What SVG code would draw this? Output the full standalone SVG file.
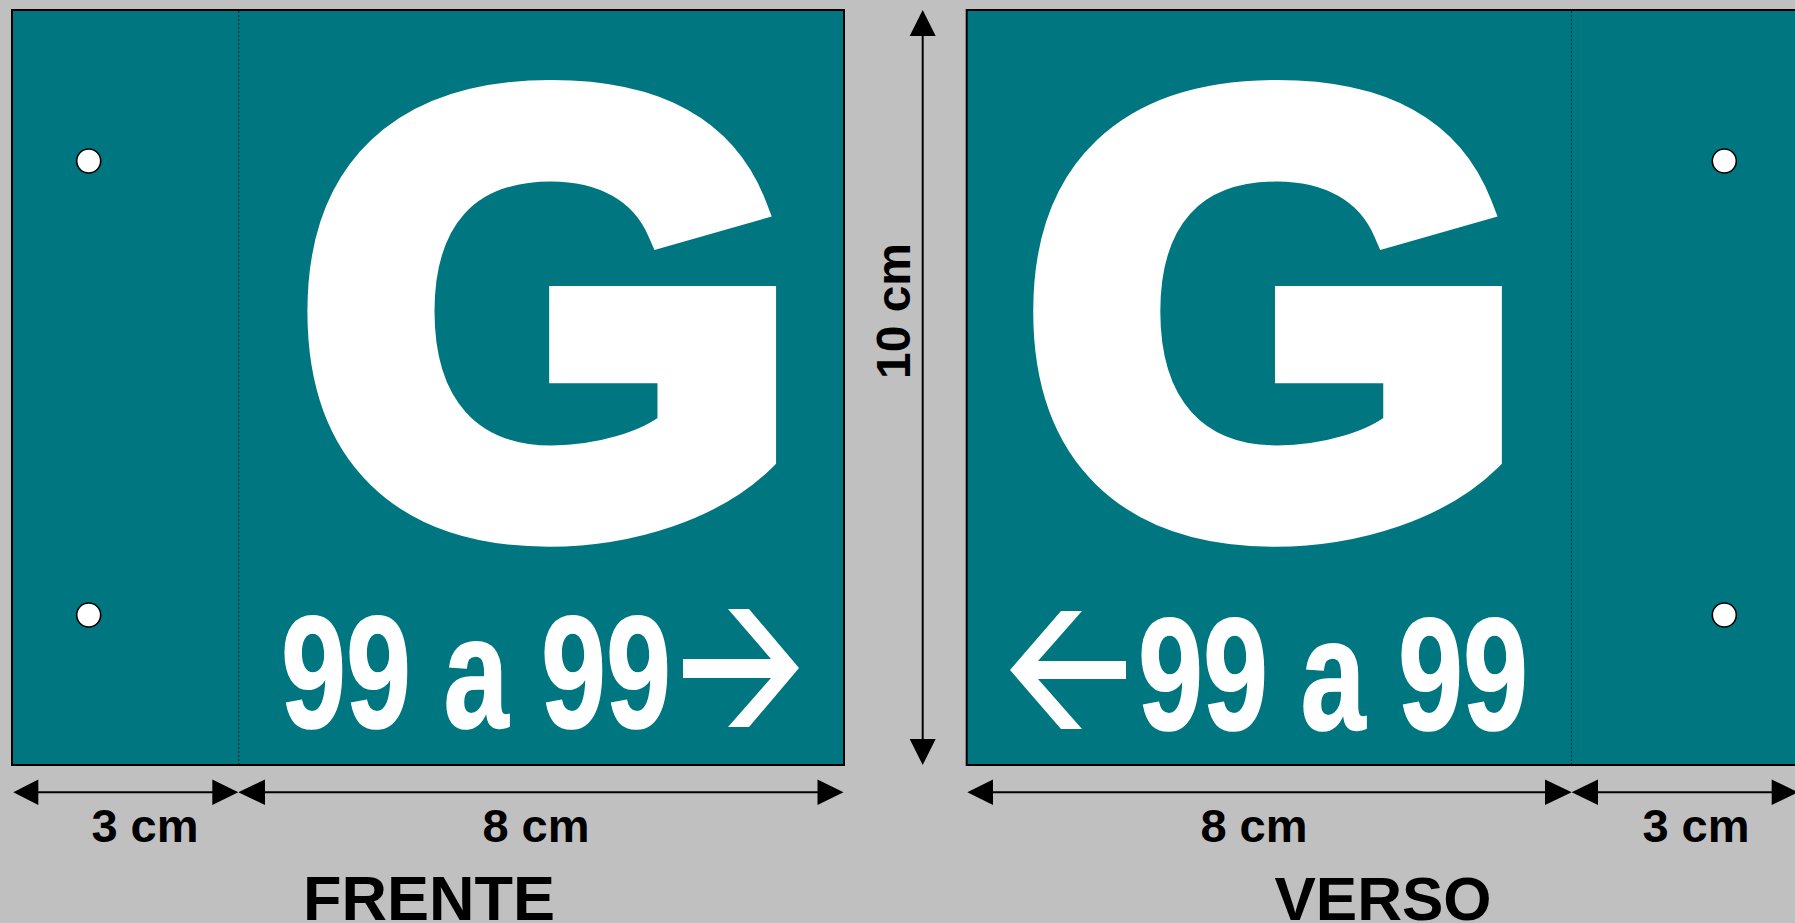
<svg xmlns="http://www.w3.org/2000/svg" width="1795" height="923" viewBox="0 0 1795 923">
<style>
.panel{fill:#007780;stroke:#000;stroke-width:2}
.fold{stroke:#0a2a30;stroke-width:1;stroke-dasharray:2,2;fill:none}
.hole{fill:#fff;stroke:#000;stroke-width:1.6}
.bigG{font-family:"Liberation Sans",Arial,sans-serif;font-weight:bold;fill:#fff;stroke:#fff;stroke-width:32;stroke-linejoin:miter;stroke-miterlimit:10}
.num{font-family:"Liberation Sans",Arial,sans-serif;font-weight:bold;fill:#fff;stroke:#fff;stroke-width:1.5}
.dim{font-family:"Liberation Sans",Arial,sans-serif;font-weight:bold;fill:#000}
.line{stroke:#000;stroke-width:2;fill:none}
.head{fill:#000}
.arrow{fill:#fff}
</style>
<rect x="0" y="0" width="1795" height="923" fill="#c0c0c0"/>
<g id="frente">
  <rect class="panel" x="12" y="10" width="832" height="755"/>
  <line class="fold" x1="238.7" y1="11" x2="238.7" y2="764"/>
  <circle class="hole" cx="88.7" cy="161" r="12"/>
  <circle class="hole" cx="88.7" cy="615" r="12"/>
  <text class="bigG" x="0" y="0" font-size="614" text-anchor="middle" transform="translate(548.5,524.7) scale(1.05,1)">G</text>
  <text class="num" x="281" y="727" font-size="160" textLength="390" lengthAdjust="spacingAndGlyphs">99 a 99</text>
  <polygon class="arrow" points="683,659 771,659 728,609 749,609 799,668 749,727 728,727 771,678 683,678"/>
</g>
<g id="verso">
  <rect class="panel" x="966.7" y="10" width="840" height="755"/>
  <line class="fold" x1="1571.5" y1="11" x2="1571.5" y2="764"/>
  <circle class="hole" cx="1724.3" cy="161" r="12"/>
  <circle class="hole" cx="1724.3" cy="615" r="12"/>
  <text class="bigG" x="0" y="0" font-size="614" text-anchor="middle" transform="translate(1274.3,524.7) scale(1.05,1)">G</text>
  <text class="num" x="1138" y="729" font-size="160" textLength="390" lengthAdjust="spacingAndGlyphs">99 a 99</text>
  <polygon class="arrow" points="1126,661 1038,661 1082,611 1061,611 1010,670 1061,729 1082,729 1038,679 1126,679"/>
</g>
<g id="connectors">
  <line class="line" x1="20" y1="792.3" x2="232" y2="792.3"/>
  <polygon class="head" points="13.3,792.3 38.3,779.5 38.3,805.1"/>
  <polygon class="head" points="238.3,792.3 212.3,779.5 212.3,805.1"/>
  <line class="line" x1="245" y1="792.3" x2="837" y2="792.3"/>
  <polygon class="head" points="238.3,792.3 265,779.5 265,805.1"/>
  <polygon class="head" points="843.5,792.3 817.5,779.5 817.5,805.1"/>
  <line class="line" x1="974" y1="792.3" x2="1565" y2="792.3"/>
  <polygon class="head" points="967.3,792.3 993,779.5 993,805.1"/>
  <polygon class="head" points="1571.7,792.3 1545,779.5 1545,805.1"/>
  <line class="line" x1="1578" y1="792.3" x2="1790" y2="792.3"/>
  <polygon class="head" points="1571.7,792.3 1598,779.5 1598,805.1"/>
  <polygon class="head" points="1798,792.3 1771.7,779.5 1771.7,805.1"/>
  <line class="line" x1="922.7" y1="18" x2="922.7" y2="757"/>
  <polygon class="head" points="922.7,10 909.7,36 935.7,36"/>
  <polygon class="head" points="922.7,765 909.7,739 935.7,739"/>
</g>
<g id="labels">
  <text class="dim" x="145" y="842" font-size="47" text-anchor="middle">3 cm</text>
  <text class="dim" x="536" y="842" font-size="47" text-anchor="middle">8 cm</text>
  <text class="dim" x="1254" y="842" font-size="47" text-anchor="middle">8 cm</text>
  <text class="dim" x="1696" y="842" font-size="47" text-anchor="middle">3 cm</text>
  <text class="dim" x="0" y="0" font-size="48" text-anchor="middle" transform="translate(910,311) rotate(-90)">10 cm</text>
  <text class="dim" x="429" y="920" font-size="63" text-anchor="middle">FRENTE</text>
  <text class="dim" x="1383" y="920" font-size="62" text-anchor="middle">VERSO</text>
</g>
</svg>
